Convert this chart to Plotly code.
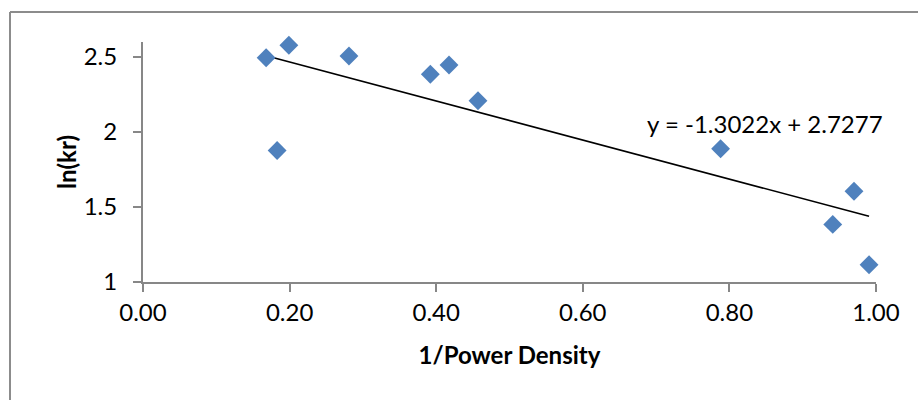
import plotly.graph_objects as go

# ---- data ----
inv_power_density = [0.168, 0.199, 0.281, 0.392, 0.4175, 0.183, 0.457, 0.788, 0.970, 0.941, 0.9905]
ln_kr = [2.495, 2.578, 2.507, 2.385, 2.447, 1.877, 2.208, 1.888, 1.605, 1.384, 1.115]
trend_slope = -1.3022
trend_intercept = 2.7277
x_tickvals = [0.0, 0.2, 0.4, 0.6, 0.8, 1.0]
x_ticktext = ["0.00", "0.20", "0.40", "0.60", "0.80", "1.00"]
y_tickvals = [1.0, 1.5, 2.0, 2.5]
y_ticktext = ["1", "1.5", "2", "2.5"]
equation_text = "y = -1.3022x + 2.7277"

W, H = 918, 400
ML, MR, MT, MB = 143, 42, 42, 118
FONT = "Lato, 'Open Sans', sans-serif"
AXIS_COLOR = "#878787"

x_min, x_max = min(inv_power_density), max(inv_power_density)
trend_x = [x_min, x_max]
trend_y = [trend_slope * v + trend_intercept for v in trend_x]

fig = go.Figure()
fig.add_trace(go.Scatter(
    x=trend_x, y=trend_y, mode="lines",
    line=dict(color="black", width=1.6), hoverinfo="skip", showlegend=False))
fig.add_trace(go.Scatter(
    x=inv_power_density, y=ln_kr, mode="markers", cliponaxis=False,
    marker=dict(symbol="diamond", size=14.5, color="#4F81BD", line=dict(width=0)),
    showlegend=False))

fig.add_annotation(x=0.848, y=2.056, xref="x", yref="y", text=equation_text,
                   showarrow=False, xanchor="center", yanchor="middle",
                   font=dict(family=FONT, size=24, color="black"))

# chart border (left and top edges visible)
pw = W - ML - MR
ph = H - MT - MB
def px_to_paper_x(px):
    return (px - ML) / pw
def px_to_paper_y(py):
    return (H - MB - py) / ph
fig.add_shape(type="line", xref="paper", yref="paper",
              x0=px_to_paper_x(10), x1=px_to_paper_x(W + 5),
              y0=px_to_paper_y(12), y1=px_to_paper_y(12),
              line=dict(color="#8C8C8C", width=2))
fig.add_shape(type="line", xref="paper", yref="paper",
              x0=px_to_paper_x(10), x1=px_to_paper_x(10),
              y0=px_to_paper_y(12), y1=px_to_paper_y(H + 5),
              line=dict(color="#8C8C8C", width=2))

fig.update_layout(
    width=W, height=H,
    margin=dict(l=ML, r=MR, t=MT, b=MB, autoexpand=False),
    paper_bgcolor="white", plot_bgcolor="white",
    font=dict(family=FONT, size=24, color="black"),
    showlegend=False,
)
fig.update_xaxes(
    range=[0, 1], tickvals=x_tickvals, ticktext=x_ticktext,
    showgrid=False, zeroline=False, showline=True, linecolor=AXIS_COLOR, linewidth=2,
    ticks="outside", ticklen=8, tickwidth=2, tickcolor=AXIS_COLOR,
    ticklabelstandoff=0,
    tickfont=dict(family=FONT, size=24, color="black"),
    title=dict(text="<b>1/Power Density</b>", standoff=22,
               font=dict(family=FONT, size=24, color="black")),
)
fig.update_yaxes(
    range=[1, 2.6], tickvals=y_tickvals, ticktext=y_ticktext,
    showgrid=False, zeroline=False, showline=True, linecolor=AXIS_COLOR, linewidth=2,
    ticks="outside", ticklen=8, tickwidth=2, tickcolor=AXIS_COLOR,
    ticklabelstandoff=11,
    tickfont=dict(family=FONT, size=24, color="black"),
    title=dict(text="<b>ln(kr)</b>", standoff=0,
               font=dict(family=FONT, size=24, color="black")),
)

fig.write_html("out.html")
